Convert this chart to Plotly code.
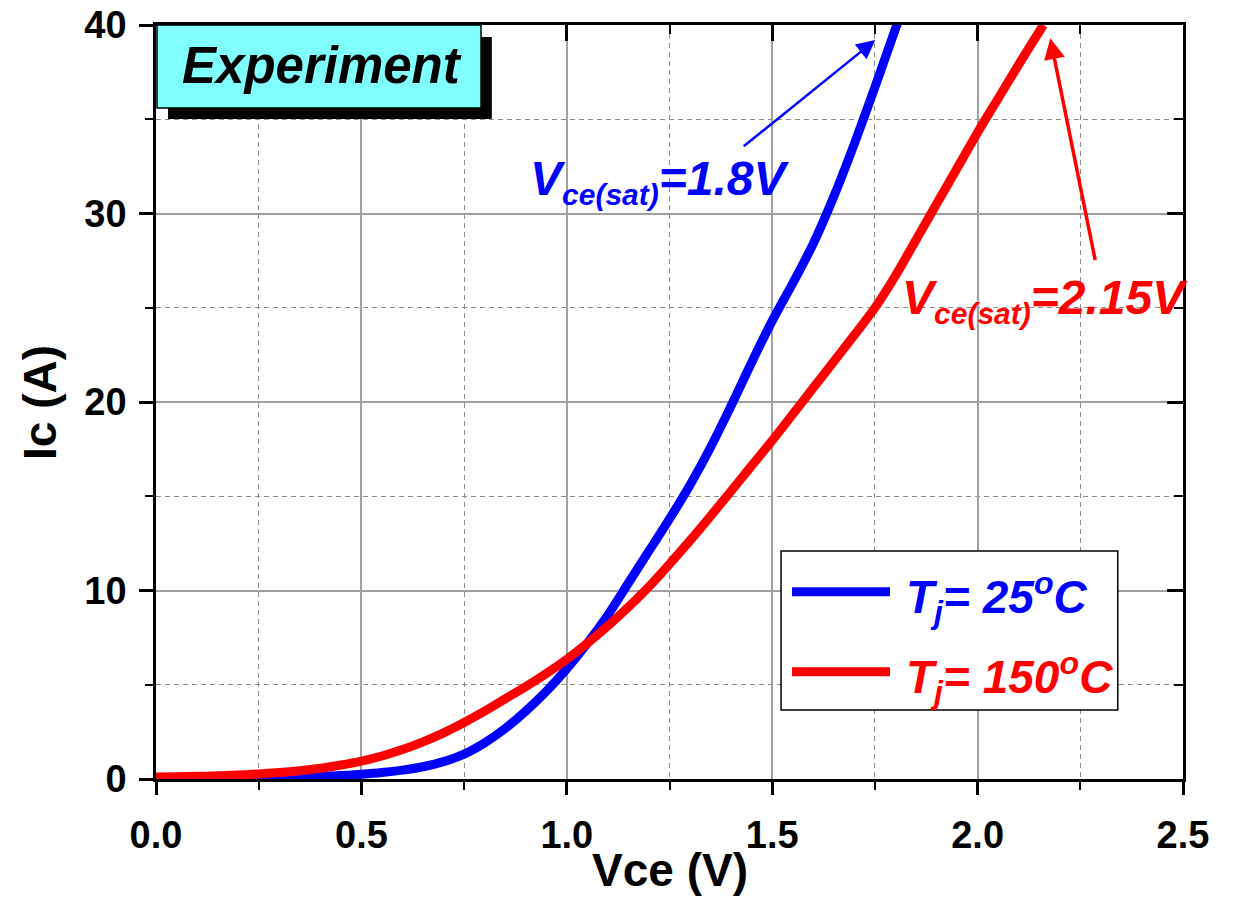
import plotly.graph_objects as go

# ---------------- data ----------------
v_25 = [0.00, 0.05, 0.10, 0.15, 0.20, 0.25, 0.30, 0.35, 0.40, 0.45, 0.50, 0.55, 0.60,
        0.65, 0.70, 0.75, 0.80, 0.85, 0.90, 0.95, 1.00, 1.05, 1.10, 1.15, 1.20, 1.25,
        1.30, 1.35, 1.40, 1.45, 1.50, 1.55, 1.60, 1.65, 1.70, 1.75, 1.80, 1.81]
i_25 = [0.05, 0.05, 0.05, 0.05, 0.06, 0.07, 0.08, 0.10, 0.13, 0.18, 0.25, 0.34, 0.47,
        0.65, 0.92, 1.32, 1.92, 2.68, 3.60, 4.65, 5.85, 7.20, 8.70, 10.4, 12.1, 13.8,
        15.6, 17.6, 19.8, 22.1, 24.3, 26.3, 28.4, 30.9, 33.7, 36.7, 39.8, 40.4]

v_150 = [0.00, 0.05, 0.10, 0.15, 0.20, 0.25, 0.30, 0.35, 0.40, 0.45, 0.50, 0.55, 0.60,
         0.65, 0.70, 0.75, 0.80, 0.85, 0.90, 0.95, 1.00, 1.05, 1.10, 1.15, 1.20, 1.25,
         1.30, 1.35, 1.40, 1.45, 1.50, 1.55, 1.60, 1.65, 1.70, 1.75, 1.80, 1.85, 1.90,
         1.95, 2.00, 2.05, 2.10, 2.16]
i_150 = [0.11, 0.12, 0.14, 0.17, 0.21, 0.27, 0.34, 0.44, 0.57, 0.74, 0.95, 1.22, 1.56,
         1.97, 2.45, 3.00, 3.60, 4.25, 4.90, 5.60, 6.35, 7.20, 8.12, 9.12, 10.2, 11.4,
         12.65, 13.95, 15.28, 16.62, 17.96, 19.35, 20.75, 22.15, 23.55, 25.0, 26.7, 28.6,
         30.5, 32.4, 34.3, 36.1, 37.9, 40.0]

series_names = ["T<sub>j</sub>= 25<sup>o</sup>C", "T<sub>j</sub>= 150<sup>o</sup>C"]
series_colors = ["#0000FF", "#FF0000"]

x_ticks = [0.0, 0.5, 1.0, 1.5, 2.0, 2.5]
x_ticklabels = ["0.0", "0.5", "1.0", "1.5", "2.0", "2.5"]
y_ticks = [0, 10, 20, 30, 40]
y_ticklabels = ["0", "10", "20", "30", "40"]

vsat_25 = 1.8
vsat_150 = 2.15

FONT = "Liberation Sans, Arial, sans-serif"

fig = go.Figure()

fig.add_trace(go.Scatter(x=v_25, y=i_25, mode="lines", name=series_names[0],
                         line=dict(color=series_colors[0], width=9, shape="spline", smoothing=1.0),
                         showlegend=False))
fig.add_trace(go.Scatter(x=v_150, y=i_150, mode="lines", name=series_names[1],
                         line=dict(color=series_colors[1], width=9, shape="spline", smoothing=1.0),
                         showlegend=False))
# invisible trace to bring up the mirrored (top/right) axes
fig.add_trace(go.Scatter(x=[None], y=[None], xaxis="x2", yaxis="y2", showlegend=False,
                         hoverinfo="skip"))

tickfont = dict(family=FONT, size=38, color="black", weight="bold")

fig.update_layout(
    width=1235, height=901,
    margin=dict(l=156, r=52, t=25, b=122),
    paper_bgcolor="white", plot_bgcolor="white",
    showlegend=False,
    xaxis=dict(range=[0, 2.5], tickvals=x_ticks, ticktext=x_ticklabels,
               ticks="outside", ticklen=13, tickwidth=2.5, tickcolor="black",
               showline=True, linecolor="black", linewidth=2.5,
               showgrid=True, gridcolor="#A0A0A0", gridwidth=1.5,
               zeroline=False, tickfont=tickfont, ticklabelstandoff=8,
               automargin=False,
               minor=dict(dtick=0.25, tick0=0, ticks="outside", ticklen=8, tickwidth=2,
                          tickcolor="black", showgrid=True, gridcolor="#8C8C8C",
                          gridwidth=1, griddash="5px,4px")),
    yaxis=dict(range=[0, 40], tickvals=y_ticks, ticktext=y_ticklabels,
               ticks="outside", ticklen=14, tickwidth=2.5, tickcolor="black",
               showline=True, linecolor="black", linewidth=2.5,
               showgrid=True, gridcolor="#A0A0A0", gridwidth=1.5,
               zeroline=False, tickfont=tickfont, ticklabelstandoff=5,
               automargin=False,
               minor=dict(dtick=5, tick0=0, ticks="outside", ticklen=8, tickwidth=2,
                          tickcolor="black", showgrid=True, gridcolor="#8C8C8C",
                          gridwidth=1, griddash="5px,4px")),
    xaxis2=dict(overlaying="x", side="top", range=[0, 2.5], tickvals=x_ticks,
                showticklabels=False, ticks="inside", ticklen=16, tickwidth=2.5,
                tickcolor="black", showline=True, linecolor="black", linewidth=2.5,
                showgrid=False, zeroline=False, automargin=False,
                minor=dict(dtick=0.25, tick0=0, ticks="inside", ticklen=9, tickwidth=2,
                           tickcolor="black", showgrid=False)),
    yaxis2=dict(overlaying="y", side="right", range=[0, 40], tickvals=y_ticks,
                showticklabels=False, ticks="inside", ticklen=16, tickwidth=2.5,
                tickcolor="black", showline=True, linecolor="black", linewidth=2.5,
                showgrid=False, zeroline=False, automargin=False,
                minor=dict(dtick=5, tick0=0, ticks="inside", ticklen=9, tickwidth=2,
                           tickcolor="black", showgrid=False)),
)

# axis titles
fig.add_annotation(xref="paper", yref="paper", x=0.5, y=-0.121,
                   text="<b>Vce (V)</b>", showarrow=False,
                   xanchor="center", yanchor="middle",
                   font=dict(family=FONT, size=46, color="black"))
fig.add_annotation(xref="paper", yref="paper", x=-0.113, y=0.5,
                   text="<b>Ic (A)</b>", showarrow=False, textangle=-90,
                   xanchor="center", yanchor="middle",
                   font=dict(family=FONT, size=46, color="black"))

# "Experiment" label box with drop shadow
fig.add_shape(type="rect", xref="x domain", yref="y domain",
              x0=0.0117, x1=0.327, y0=0.8753, y1=0.984,
              fillcolor="black", line=dict(width=0), layer="above")
fig.add_shape(type="rect", xref="x domain", yref="y domain",
              x0=0.001, x1=0.3165, y0=0.890, y1=1.0,
              fillcolor="#80FFFF", line=dict(color="black", width=1.5), layer="above")
fig.add_annotation(xref="x domain", yref="y domain", x=0.1616, y=0.946,
                   text="<b><i>Experiment</i></b>", showarrow=False,
                   font=dict(family=FONT, size=51, color="black"),
                   xanchor="center", yanchor="middle")

# V_ce(sat) labels
sub_style = '<span style="font-size:30px">'
fig.add_annotation(x=0.906, y=31.7, xref="x", yref="y",
                   text="<b><i>V<sub>" + sub_style + "ce(sat)</span></sub>=%.1fV</i></b>" % vsat_25,
                   showarrow=False, xanchor="left", yanchor="middle",
                   font=dict(family=FONT, size=48, color=series_colors[0]))
fig.add_annotation(x=1.812, y=25.4, xref="x", yref="y",
                   text="<b><i>V<sub>" + sub_style + "ce(sat)</span></sub>=%.2fV</i></b>" % vsat_150,
                   showarrow=False, xanchor="left", yanchor="middle",
                   font=dict(family=FONT, size=48, color=series_colors[1]))

# arrows
fig.add_annotation(x=1.751, y=39.2, ax=1.427, ay=33.5, xref="x", yref="y",
                   axref="x", ayref="y", text="", showarrow=True,
                   arrowhead=2, arrowsize=1.5, arrowwidth=2.5, arrowcolor=series_colors[0])
fig.add_annotation(x=2.177, y=39.3, ax=2.287, ay=27.45, xref="x", yref="y",
                   axref="x", ayref="y", text="", showarrow=True,
                   arrowhead=2, arrowsize=1.2, arrowwidth=3.5, arrowcolor=series_colors[1])

# legend box (drawn manually to match the long sample lines)
fig.add_shape(type="rect", xref="x domain", yref="y domain",
              x0=0.6086, x1=0.9365, y0=0.0915, y1=0.3024,
              fillcolor="white", line=dict(color="black", width=1.5), layer="above")
leg_y = [0.2484, 0.1423]
for k in range(2):
    fig.add_shape(type="line", xref="x domain", yref="y domain",
                  x0=0.6193, x1=0.7147, y0=leg_y[k], y1=leg_y[k],
                  line=dict(color=series_colors[k], width=9), layer="above")
    fig.add_annotation(xref="x domain", yref="y domain", x=0.7283, y=leg_y[k] - 0.008,
                       text="<b><i>" + series_names[k] + "</i></b>", showarrow=False,
                       xanchor="left", yanchor="middle",
                       font=dict(family=FONT, size=46, color=series_colors[k]))

fig.write_html("out.html")
